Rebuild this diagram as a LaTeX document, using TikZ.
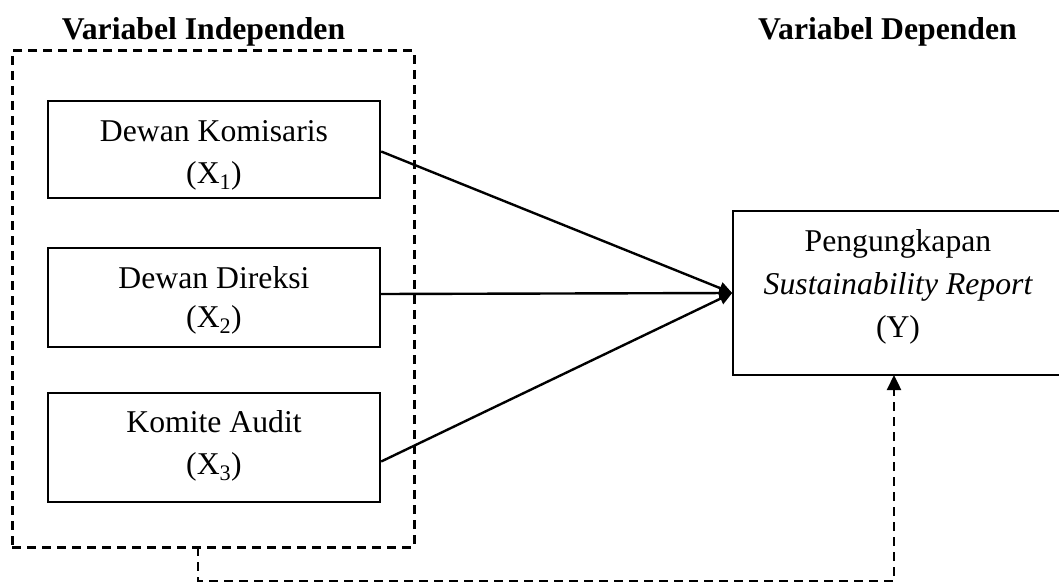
\documentclass[tikz,border=0pt]{standalone}
\usepackage{fontspec}
\setmainfont{Liberation Serif}
\usetikzlibrary{arrows.meta}
\begin{document}
\begin{tikzpicture}[x=1pt,y=-1pt,
  txt/.style={inner sep=0pt,anchor=base,font=\fontsize{31.7}{38}\selectfont},
  ttl/.style={txt,font=\fontsize{31.7}{38}\selectfont\bfseries},
  xbox/.style={draw,line width=2.4pt,rectangle,inner sep=0pt,minimum width=332pt},
  grpbox/.style={draw,line width=3pt,dash pattern=on 9pt off 6pt,rectangle,inner sep=0pt},
  link/.style={line width=2.4pt,-{Triangle[length=13pt,width=12pt]}},
  dlink/.style={line width=2.4pt,dash pattern=on 9pt off 6pt,-{Triangle[length=15pt,width=14pt]}}
]
\useasboundingbox (0,0) rectangle (1059,583);
% titles
\node[ttl] (tind) at (203.5,40) {Variabel Independen};
\node[ttl] (tdep) at (887.5,40) {Variabel Dependen};
% group
\node[grpbox,minimum width=402pt,minimum height=496pt] (grp) at (213,299) {};
% independent boxes
\node[xbox,minimum height=97pt] (x1) at (214,149.5) {};
\node[xbox,minimum height=99pt] (x2) at (214,297.5) {};
\node[xbox,minimum height=109pt] (x3) at (214,447.5) {};
\node[txt] (x1a) at (214,142) {Dewan Komisaris};
\node[txt] (x1b) at (214,183) {(X\textsubscript{1})};
\node[txt] (x2a) at (214,288) {Dewan Direksi};
\node[txt] (x2b) at (214,327) {(X\textsubscript{2})};
\node[txt] (x3a) at (214,432) {Komite Audit};
\node[txt] (x3b) at (214,474) {(X\textsubscript{3})};
% dependent box
\node[draw,line width=1.6pt,rectangle,inner sep=0pt,minimum width=332pt,minimum height=164pt] (yb) at (899,293) {};
\node[txt] (ya) at (898,251) {Pengungkapan};
\node[txt] (yc) at (898,294) {\itshape Sustainability Report};
\node[txt] (yd) at (898,337) {(Y)};
% arrows
\draw[link] ([yshift=-2pt]x1.east) -- (yb.west);
\draw[link] ([yshift=3.5pt]x2.east) -- (yb.west);
\draw[link] ([yshift=-14pt]x3.east) -- (yb.west);
% dashed connector
\coordinate (c1) at (198,547);
\coordinate (c2) at (894,375);
\draw[dlink] (c1) -- (198,581) -| (c2);
\end{tikzpicture}
\end{document}
